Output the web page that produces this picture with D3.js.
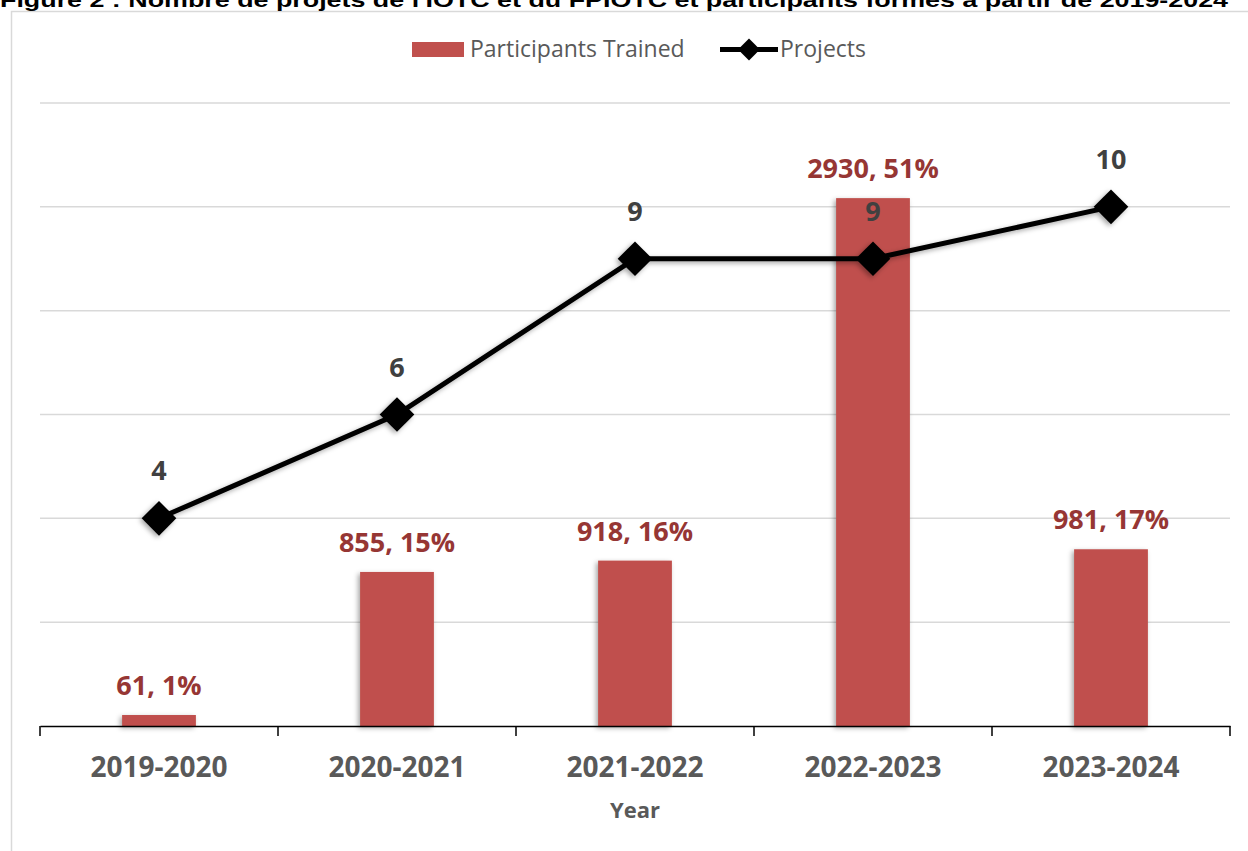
<!DOCTYPE html>
<html>
<head>
<meta charset="utf-8">
<script src="https://cdn.jsdelivr.net/npm/d3@7"></script>
<style>
  html, body { margin: 0; padding: 0; background: #fff; overflow: hidden; }
  svg { display: block; }
</style>
</head>
<body>
<svg id="chart" width="1248" height="851"></svg>
<script>
const years = ["2019-2020", "2020-2021", "2021-2022", "2022-2023", "2023-2024"];
const participants = [61, 855, 918, 2930, 981];
const shares = ["1%", "15%", "16%", "51%", "17%"];
const projects = [4, 6, 9, 9, 10];
const projectTicks = [0, 2, 4, 6, 8, 10, 12];

const titleText = "Figure 2 : Nombre de projets de l'IOTC et du FPIOTC et participants formés à partir de 2019-2024";

const margin = { top: 103, right: 18, bottom: 125, left: 40 };
const width = 1248;
const height = 851;
const font = "'Open Sans', 'Noto Sans', sans-serif";

const svg = d3.select("#chart");

const defs = svg.append("defs");
const shadow = defs.append("filter")
  .attr("id", "shadow")
  .attr("x", "-30%").attr("y", "-30%")
  .attr("width", "160%").attr("height", "160%");
shadow.append("feDropShadow")
  .attr("dx", -2).attr("dy", 2)
  .attr("stdDeviation", 2.5)
  .attr("flood-color", "#000")
  .attr("flood-opacity", 0.35);

// frame + caption (cut at the top edge, as in the source)
svg.append("rect")
  .attr("x", 11.5).attr("y", 11.5)
  .attr("width", 1260).attr("height", 860)
  .attr("fill", "none")
  .attr("stroke", "#d9d9d9")
  .attr("stroke-width", 1.5);

svg.append("text")
  .attr("x", 0).attr("y", 6.5)
  .attr("textLength", 1228)
  .attr("lengthAdjust", "spacingAndGlyphs")
  .style("font-family", "'Liberation Sans', Arial, sans-serif")
  .style("font-weight", "bold")
  .style("font-size", "21px")
  .attr("fill", "#000")
  .text(titleText);

const x = d3.scaleBand()
  .domain(years)
  .range([margin.left, width - margin.right]);

const y = d3.scaleLinear()
  .domain([0, 3458])
  .range([height - margin.bottom, margin.top]);

const y2 = d3.scaleLinear()
  .domain([0, 12])
  .range([height - margin.bottom, margin.top]);

// gridlines
svg.append("g")
  .attr("class", "grid")
  .selectAll("line")
  .data(projectTicks.filter(d => d > 0))
  .join("line")
  .attr("x1", margin.left)
  .attr("x2", width - margin.right)
  .attr("y1", d => y2(d))
  .attr("y2", d => y2(d))
  .attr("stroke", "#d9d9d9")
  .attr("stroke-width", 1.5);

// bars
const barWidth = x.bandwidth() * 0.31;
svg.append("g")
  .attr("class", "bars")
  .attr("fill", "#c0504d")
  .attr("filter", "url(#shadow)")
  .selectAll("rect")
  .data(participants)
  .join("rect")
  .attr("x", (d, i) => x(years[i]) + x.bandwidth() / 2 - barWidth / 2)
  .attr("y", d => y(d))
  .attr("width", barWidth)
  .attr("height", d => y(0) - y(d));

// x axis
const xAxis = g => g
  .attr("transform", `translate(0,${height - margin.bottom})`)
  .call(d3.axisBottom(x).tickSize(0).tickFormat(""))
  .call(g => g.select(".domain").attr("stroke", "#000").attr("stroke-width", 1.5));

svg.append("g").attr("class", "x-axis").call(xAxis);

svg.append("g")
  .attr("class", "x-ticks")
  .selectAll("line")
  .data([...years.map(d => x(d)), x.range()[1]])
  .join("line")
  .attr("x1", d => d).attr("x2", d => d)
  .attr("y1", y(0)).attr("y2", y(0) + 10)
  .attr("stroke", "#000")
  .attr("stroke-width", 1.5);

svg.append("g")
  .attr("class", "x-labels")
  .selectAll("text")
  .data(years)
  .join("text")
  .attr("x", d => x(d) + x.bandwidth() / 2)
  .attr("y", 777)
  .attr("text-anchor", "middle")
  .style("font-family", font)
  .style("font-weight", "bold")
  .style("font-size", "28px")
  .attr("fill", "#595959")
  .text(d => d);

svg.append("text")
  .attr("x", (margin.left + width - margin.right) / 2)
  .attr("y", 818)
  .attr("text-anchor", "middle")
  .style("font-family", font)
  .style("font-weight", "bold")
  .style("font-size", "22px")
  .attr("fill", "#595959")
  .text("Year");

// line
const cx = (d, i) => x(years[i]) + x.bandwidth() / 2;
const line = d3.line()
  .x(cx)
  .y(d => y2(d));

const lineG = svg.append("g").attr("class", "line").attr("filter", "url(#shadow)");
lineG.append("path")
  .datum(projects)
  .attr("d", line)
  .attr("fill", "none")
  .attr("stroke", "#000")
  .attr("stroke-width", 5);

const diamond = d3.symbol().type(d3.symbolSquare).size(600);
lineG.selectAll(".marker")
  .data(projects)
  .join("path")
  .attr("class", "marker")
  .attr("d", diamond)
  .attr("transform", (d, i) => `translate(${cx(d, i)},${y2(d)}) rotate(45)`)
  .attr("fill", "#000");

// data labels
svg.append("g")
  .attr("class", "bar-labels")
  .selectAll("text")
  .data(participants)
  .join("text")
  .attr("x", cx)
  .attr("y", d => y(d) - 20)
  .attr("text-anchor", "middle")
  .style("font-family", font)
  .style("font-weight", "bold")
  .style("font-size", "27px")
  .attr("fill", "#963634")
  .text((d, i) => `${d}, ${shares[i]}`);

svg.append("g")
  .attr("class", "line-labels")
  .selectAll("text")
  .data(projects)
  .join("text")
  .attr("x", cx)
  .attr("y", d => y2(d) - 38)
  .attr("text-anchor", "middle")
  .style("font-family", font)
  .style("font-weight", "bold")
  .style("font-size", "27px")
  .attr("fill", "#404040")
  .text(d => d);

// legend
const legend = svg.append("g").attr("class", "legend");
legend.append("rect")
  .attr("x", 412).attr("y", 42)
  .attr("width", 52).attr("height", 15)
  .attr("fill", "#c0504d");
legend.append("text")
  .attr("x", 470).attr("y", 57)
  .style("font-family", font)
  .style("font-size", "23px")
  .attr("fill", "#595959")
  .text("Participants Trained");
legend.append("line")
  .attr("x1", 720).attr("x2", 778)
  .attr("y1", 49.5).attr("y2", 49.5)
  .attr("stroke", "#000")
  .attr("stroke-width", 5);
legend.append("path")
  .attr("d", d3.symbol().type(d3.symbolSquare).size(240))
  .attr("transform", "translate(749,49.5) rotate(45)")
  .attr("fill", "#000");
legend.append("text")
  .attr("x", 780).attr("y", 57)
  .style("font-family", font)
  .style("font-size", "23px")
  .attr("fill", "#595959")
  .text("Projects");
</script>
</body>
</html>
